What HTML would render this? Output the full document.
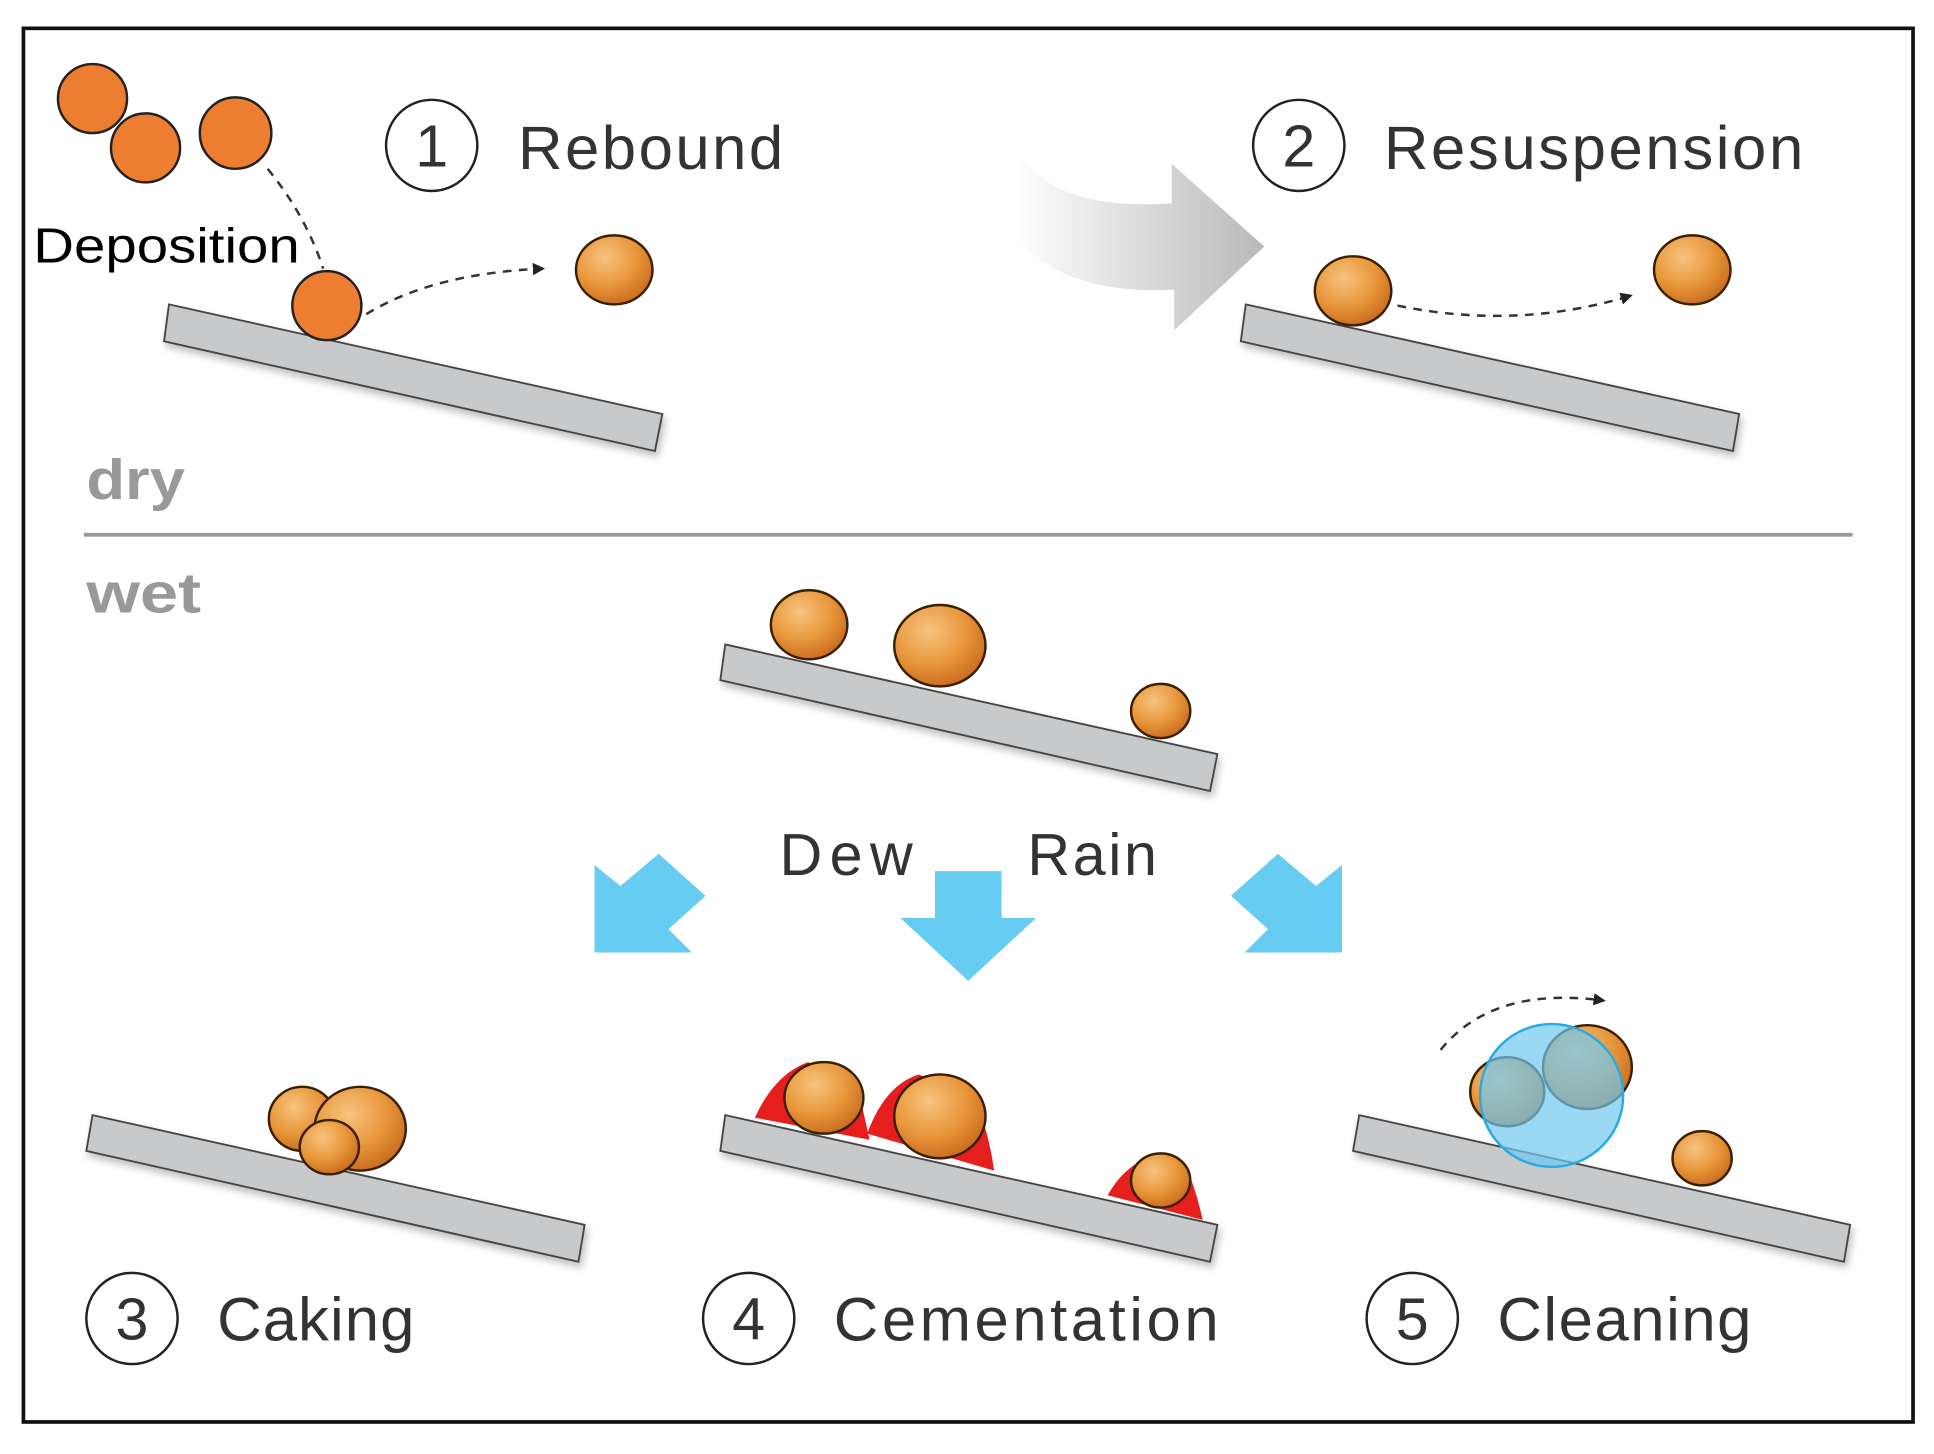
<!DOCTYPE html>
<html><head><meta charset="utf-8"><style>
html,body{margin:0;padding:0;background:#fff;}
svg{display:block;}
text{font-family:"Liberation Sans","DejaVu Sans",sans-serif;}
</style></head><body>
<svg width="1934" height="1454" viewBox="0 0 1568 1180" preserveAspectRatio="none" xmlns="http://www.w3.org/2000/svg">
<defs>
<radialGradient id="sp" cx="0.38" cy="0.32" r="0.75">
<stop offset="0" stop-color="#f7c480"/><stop offset="0.55" stop-color="#e8963a"/><stop offset="1" stop-color="#c4661a"/>
</radialGradient>
<linearGradient id="ga" x1="0" y1="0" x2="1" y2="0">
<stop offset="0" stop-color="#ffffff"/><stop offset="1" stop-color="#b9b9b9"/>
</linearGradient>
<filter id="sh" x="-10%" y="-30%" width="120%" height="160%"><feDropShadow dx="2" dy="4" stdDeviation="3" flood-color="#000" flood-opacity="0.25"/></filter>
<marker id="ah" markerWidth="10" markerHeight="10" refX="8" refY="5" orient="auto" markerUnits="userSpaceOnUse"><path d="M0,0 L18,5 L0,10 Z" fill="#222" transform="scale(0.55,1)"/></marker>
</defs>
<rect width="1568" height="1180" fill="#fff"/>
<rect x="19" y="23" width="1532" height="1131" fill="none" stroke="#111" stroke-width="3"/>
<line x1="68" y1="434" x2="1502" y2="434" stroke="#999" stroke-width="3"/>
<text x="70" y="405" font-size="46" font-weight="bold" fill="#999" textLength="80" lengthAdjust="spacingAndGlyphs">dry</text>
<text x="70" y="497" font-size="46" font-weight="bold" fill="#999" textLength="93" lengthAdjust="spacingAndGlyphs">wet</text>

<g fill="#c8c9cb" stroke="#444" stroke-width="1.5" filter="url(#sh)">
<polygon points="137,247 537,336 531,366 133,277"/>
<polygon points="1010,247 1410,336 1405,366 1006,277"/>
<polygon points="588,523 987,612 981,642 584,552"/>
<polygon points="75,905 474,994 469,1024 70,934"/>
<polygon points="588,905 987,994 981,1024 584,934"/>
<polygon points="1102,905 1500,994 1495,1024 1097,934"/>
</g>

<path d="M822,118 Q850,172 950,165 L950,133 L1025,200 L952,268 L952,235 Q860,240 822,190 Z" fill="url(#ga)"/>

<g fill="none" stroke="#333" stroke-width="2" stroke-dasharray="7,6">
<path d="M217,137 Q248,175 262,218"/>
<path d="M297,255 Q350,222 440,218" marker-end="url(#ah)"/>
<path d="M1133,248 Q1230,268 1322,240" marker-end="url(#ah)"/>
<path d="M1168,852 Q1210,800 1300,812" marker-end="url(#ah)"/>
</g>

<g fill="#ed7d31" stroke="#222" stroke-width="2">
<circle cx="75" cy="80" r="28"/><circle cx="118" cy="120" r="28"/><circle cx="191" cy="108" r="29"/><circle cx="265" cy="248" r="28"/>
</g>

<g fill="#e61e1e">
<path d="M612,907 Q628,872 655,862 L695,880 L705,925 Z"/>
<path d="M703,920 Q718,880 745,872 L790,890 Q802,920 806,950 Z"/>
<path d="M898,970 Q912,945 935,938 L965,955 Q972,975 975,990 Z"/>
</g>

<g fill="url(#sp)" stroke="#3a2000" stroke-width="2">
<ellipse cx="498" cy="219" rx="31" ry="28"/>
<ellipse cx="1097" cy="236" rx="31" ry="28"/>
<ellipse cx="1372" cy="219" rx="31" ry="28"/>
<ellipse cx="656" cy="507" rx="31" ry="28"/>
<ellipse cx="762" cy="524" rx="37" ry="33"/>
<ellipse cx="941" cy="577" rx="24" ry="22"/>
<ellipse cx="245" cy="908" rx="27" ry="26"/>
<ellipse cx="292" cy="916" rx="37" ry="34"/>
<ellipse cx="267" cy="931" rx="24" ry="22"/>
<ellipse cx="668" cy="891" rx="32" ry="29"/>
<ellipse cx="762" cy="906" rx="37" ry="34"/>
<ellipse cx="941" cy="958" rx="24" ry="22"/>
<ellipse cx="1222" cy="886" rx="30" ry="28"/>
<ellipse cx="1287" cy="866" rx="36" ry="34"/>
<ellipse cx="1380" cy="940" rx="24" ry="22"/>
</g>
<circle cx="1258" cy="889" r="58" fill="#6fc8ef" fill-opacity="0.7" stroke="#29abe2" stroke-width="2"/>

<g fill="#66ccf2">
<polygon points="758,707 812,707 812,745 840,745 785,796 730,745 758,745"/>
<polygon points="482,702 503,719 534,693 572,727 542,754 561,773 482,773"/>
<polygon points="1088,702 1067,719 1036,693 998,727 1028,754 1009,773 1088,773"/>
</g>

<g fill="none" stroke="#222" stroke-width="2">
<circle cx="350" cy="118" r="37"/><circle cx="1053" cy="118" r="37"/>
<circle cx="107" cy="1070" r="37"/><circle cx="607" cy="1070" r="37"/><circle cx="1145" cy="1070" r="37"/>
</g>
<g font-size="48" fill="#333" text-anchor="middle">
<text x="350" y="135">1</text><text x="1053" y="135">2</text>
<text x="107" y="1087">3</text><text x="607" y="1087">4</text><text x="1145" y="1087">5</text>
</g>
<g font-size="50" fill="#333" lengthAdjust="spacingAndGlyphs">
<text x="420" y="137" textLength="215">Rebound</text>
<text x="1122" y="137" textLength="340">Resuspension</text>
<text x="176" y="1088" textLength="160">Caking</text>
<text x="676" y="1088" textLength="312">Cementation</text>
<text x="1214" y="1088" textLength="206">Cleaning</text>
<text x="632" y="710" font-size="48" textLength="108">Dew</text>
<text x="833" y="710" font-size="48" textLength="105">Rain</text>
</g>
<text x="27" y="213" font-size="40" fill="#000" textLength="216" lengthAdjust="spacingAndGlyphs">Deposition</text>
</svg>
</body></html>
